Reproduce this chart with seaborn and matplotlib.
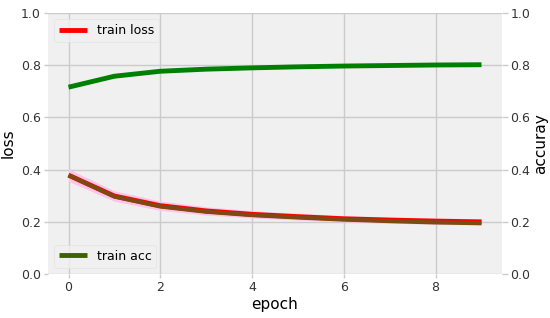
import matplotlib
matplotlib.use("Agg")
import matplotlib.pyplot as plt
import seaborn as sns
import pandas as pd

# values
epochs = [0, 1, 2, 3, 4, 5, 6, 7, 8, 9]
train_loss = [0.379, 0.299, 0.262, 0.242, 0.229, 0.220, 0.212, 0.207, 0.203, 0.200]
loss_spread = [0.024, 0.02, 0.018, 0.016, 0.014, 0.013, 0.012, 0.012, 0.012, 0.012]
val_loss = [0.379, 0.297, 0.259, 0.239, 0.226, 0.217, 0.209, 0.203, 0.198, 0.195]
train_acc = [0.716, 0.758, 0.777, 0.785, 0.790, 0.794, 0.797, 0.799, 0.801, 0.802]

df = pd.DataFrame({"epoch": epochs, "loss": train_loss, "val_loss": val_loss, "acc": train_acc})
lo = [l - s for l, s in zip(train_loss, loss_spread)]
hi = [l + s for l, s in zip(train_loss, loss_spread)]

plt.style.use("fivethirtyeight")
plt.rcParams["font.family"] = ["DejaVu Sans"]

fig, ax = plt.subplots(figsize=(5.5, 3.18), dpi=100)
fig.patch.set_facecolor("white")
fig.subplots_adjust(left=0.087, right=0.913, top=0.959, bottom=0.138)

ax.fill_between(epochs, lo, hi, color="#ffc4e8", lw=0, zorder=2)
sns.lineplot(data=df, x="epoch", y="loss", ax=ax, color="red", lw=3.5, label="train loss", zorder=3)
sns.lineplot(data=df, x="epoch", y="val_loss", ax=ax, color="#7d4a12", lw=3, legend=False, zorder=4)
ax.set_ylim(0, 1)
ax.set_ylabel("loss", fontsize=11, labelpad=4)
ax.set_xlabel("epoch", fontsize=11, labelpad=2)
ax.tick_params(labelsize=9, colors="#cbcbcb", labelcolor="#333333", length=3, width=1, pad=2)
ax.set_xticks([0, 2, 4, 6, 8])
ax.legend(loc="upper left", fontsize=9, frameon=True, facecolor="#f0f0f0", edgecolor="#e0e0e0",
          handlelength=2.2)

ax2 = ax.twinx()
sns.lineplot(data=df, x="epoch", y="acc", ax=ax2, color="green", lw=3.5, legend=False, zorder=3)
ax2.plot([], [], color="#3d6200", lw=3.5, label="train acc")
ax2.set_ylim(0, 1)
ax2.grid(False)
ax2.set_ylabel("accuray", fontsize=11, labelpad=2)
ax2.tick_params(labelsize=9, colors="#cbcbcb", labelcolor="#333333", length=4, width=1, pad=2)
ax2.legend(loc="lower left", fontsize=9, frameon=True, facecolor="#f0f0f0", edgecolor="#e0e0e0",
           handlelength=2.2)
for a in (ax, ax2):
    for s in a.spines.values():
        s.set_visible(False)

fig.savefig("out.png", dpi=100, facecolor="white")
